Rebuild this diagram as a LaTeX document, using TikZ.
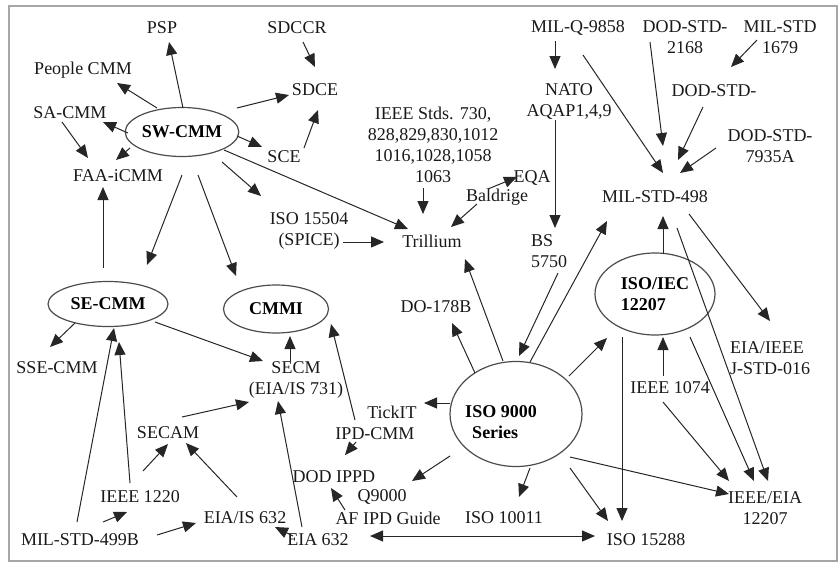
\documentclass[tikz,border=0pt]{standalone}
\usepackage{fontspec}
\setmainfont{Liberation Serif}
\usetikzlibrary{arrows.meta,shapes.geometric}
\begin{document}
\begin{tikzpicture}[x=1pt,y=-1pt,
  lbl/.style={inner sep=0pt, font=\fontsize{18}{21}\selectfont, text=black!90, align=center},
  ell/.style={ellipse, draw=black!70, line width=1.2pt, inner sep=0pt, text=black, font=\bfseries\fontsize{18}{21}\selectfont},
  arr/.style={draw=black!85, line width=1pt, -{Triangle[length=13pt,width=11pt]}},
  darr/.style={draw=black!85, line width=1pt, {Triangle[length=13pt,width=11pt]}-{Triangle[length=13pt,width=11pt]}}]
\useasboundingbox (0,0) rectangle (840,563);
\draw[gray!70, line width=2pt] (9,6) rectangle (837,561);
% nodes
\node[lbl] (psp) at (162,28) {PSP};
\node[lbl] (sdccr) at (297,28) {SDCCR};
\node[lbl] (people) at (83,70) {People CMM};
\node[lbl] (sdce) at (315,90) {SDCE};
\node[lbl] (sacmm) at (70,113) {SA-CMM};
\node[ell, minimum width=109pt, minimum height=49pt] (swcmm) at (182,132) {SW-CMM};
\node[lbl] (sce) at (284,157) {SCE};
\node[lbl] (faa) at (118,176) {FAA-iCMM};
\node[lbl] (ieee) at (433,145) {IEEE Stds. 730,\\828,829,830,1012\\1016,1028,1058\\1063};
\node[lbl] (eqa) at (532,178) {EQA};
\node[lbl] (baldrige) at (497,197) {Baldrige};
\node[lbl] (milq) at (578,28) {MIL-Q-9858};
\node[lbl] (dod2168) at (685,37) {DOD-STD-\\2168};
\node[lbl] (mil1679) at (780,37) {MIL-STD\\1679};
\node[lbl] (nato) at (569,101) {NATO\\AQAP1,4,9};
\node[lbl] (dodmid) at (714,91) {DOD-STD-};
\node[lbl] (dod7935) at (770,146) {DOD-STD-\\7935A};
\node[lbl] (mil498) at (655,197) {MIL-STD-498};
\node[lbl] (iso15504) at (309,231) {ISO 15504\\(SPICE)};
\node[lbl] (trillium) at (432,241) {Trillium};
\node[lbl, align=left] (bs5750) at (549,251) {BS\\5750};
\node[lbl] (do178) at (436,307) {DO-178B};
\node[ell, minimum width=105pt, minimum height=48pt] (cmmi) at (276,309) {CMMI};
\node[ell, minimum width=120pt, minimum height=45pt] (secmm) at (108,304) {SE-CMM};
\node[ell, minimum width=120pt, minimum height=82pt, align=left] (isoiec) at (655,294) {ISO/IEC\\12207};
\node[lbl] (ssecmm) at (57,368) {SSE-CMM};
\node[lbl] (secm) at (296,380) {SECM\\(EIA/IS 731)};
\node[lbl, align=left] (jstd) at (770,358) {EIA/IEEE\\J-STD-016};
\node[lbl] (ieee1074) at (670,388) {IEEE 1074};
\node[ell, minimum width=132pt, minimum height=105pt] (iso9000) at (516,414) {};
\node[lbl, align=left, text=black, font=\bfseries\fontsize{18}{21}\selectfont] (iso9000t) at (501,422) {ISO 9000\\\hspace*{7pt}Series};
\node[lbl] (tickit) at (392,412) {TickIT};
\node[lbl] (ipdcmm) at (375,434) {IPD-CMM};
\node[lbl] (secam) at (168,433) {SECAM};
\node[lbl] (dodippd) at (334,477) {DOD IPPD};
\node[lbl] (q9000) at (382,497) {Q9000};
\node[lbl] (afipd) at (388,518) {AF IPD Guide};
\node[lbl] (iso10011) at (504,518) {ISO 10011};
\node[lbl] (ieee1220) at (140,497) {IEEE 1220};
\node[lbl] (eiais632) at (245,518) {EIA/IS 632};
\node[lbl] (mil499b) at (80,540) {MIL-STD-499B};
\node[lbl] (eia632) at (318,540) {EIA 632};
\node[lbl] (iso15288) at (646,540) {ISO 15288};
\node[lbl] (ieeeeia) at (765,508) {IEEE/EIA\\12207};
% connectors
\draw[arr] ([shift={(1,-24)}]swcmm.center) -- ([shift={(7,14)}]psp.center);
\draw[arr] ([shift={(-25,-24)}]swcmm.center) -- ([shift={(34,13)}]people.center);
\draw[arr] ([shift={(-54,1)}]swcmm.center) -- ([shift={(33,9)}]sacmm.center);
\draw[arr] ([shift={(-52,16)}]swcmm.center) -- ([shift={(-2,-16)}]faa.center);
\draw[arr] ([shift={(-8,9)}]sacmm.center) -- ([shift={(-30,-18)}]faa.center);
\draw[arr] ([shift={(55,-24)}]swcmm.center) -- ([shift={(-26,5)}]sdce.center);
\draw[arr] ([shift={(55,4)}]swcmm.center) -- ([shift={(-22,-10)}]sce.center);
\draw[arr] ([shift={(20,-9)}]sce.center) -- ([shift={(3,20)}]sdce.center);
\draw[arr] ([shift={(6,14)}]sdccr.center) -- ([shift={(0,-23)}]sdce.center);
\draw[arr] ([shift={(42,18)}]swcmm.center) -- ([shift={(-24,-12)}]trillium.center);
\draw[arr] ([shift={(40,30)}]swcmm.center) -- ([shift={(-48,-35)}]iso15504.center);
\draw[arr] ([shift={(0,43)}]swcmm.center) -- ([shift={(39,-39)}]secmm.center);
\draw[arr] ([shift={(16,43)}]swcmm.center) -- ([shift={(-40,-33)}]cmmi.center);
\draw[arr] ([shift={(-5,-36)}]secmm.center) -- ([shift={(-15,11)}]faa.center);
\draw[arr] ([shift={(-33,19)}]secmm.center) -- ([shift={(-7,-21)}]ssecmm.center);
\draw[arr] ([shift={(47,18)}]secmm.center) -- ([shift={(-33,-19)}]secm.center);
\draw[arr] ([shift={(-6,-18)}]secm.center) -- ([shift={(14,27)}]cmmi.center);
\draw[arr] ([shift={(-20,-14)}]ipdcmm.center) -- ([shift={(55,15)}]cmmi.center);
\draw[arr] ([shift={(14,-16)}]secam.center) -- ([shift={(-47,22)}]secm.center);
\draw[arr] ([shift={(3,-26)}]ieee1220.center) -- ([shift={(0,11)}]secam.center);
\draw[arr] ([shift={(-8,-21)}]eiais632.center) -- ([shift={(18,10)}]secam.center);
\draw[arr] ([shift={(-10,-14)}]ieee1220.center) -- ([shift={(11,38)}]secmm.center);
\draw[arr] ([shift={(-3,-18)}]mil499b.center) -- ([shift={(6,24)}]secmm.center);
\draw[arr] ([shift={(23,-18)}]mil499b.center) -- ([shift={(-13,15)}]ieee1220.center);
\draw[arr] ([shift={(77,-5)}]mil499b.center) -- ([shift={(-49,5)}]eiais632.center);
\draw[arr] ([shift={(-25,-4)}]eia632.center) -- ([shift={(30,9)}]eiais632.center);
\draw[arr] ([shift={(-16,-13)}]eia632.center) -- ([shift={(-18,21)}]secm.center);
\draw[darr] ([shift={(52,-4)}]eia632.center) -- ([shift={(-51,-4)}]iso15288.center);
\draw[arr] ([shift={(-43,-8)}]afipd.center) -- ([shift={(-3,11)}]dodippd.center);
\draw[arr] ([shift={(-19,8)}]ipdcmm.center) -- ([shift={(11,-22)}]dodippd.center);
\draw[arr] ([shift={(-66,-11)}]iso9000.center) -- ([shift={(32,-9)}]tickit.center);
\draw[arr] ([shift={(-66,42)}]iso9000.center) -- ([shift={(30,-16)}]q9000.center);
\draw[arr] ([shift={(14,54)}]iso9000.center) -- ([shift={(15,-21)}]iso10011.center);
\draw[arr] ([shift={(54,54)}]iso9000.center) -- ([shift={(-38,-19)}]iso15288.center);
\draw[arr] ([shift={(54,43)}]iso9000.center) -- ([shift={(-36,-14)}]ieeeeia.center);
\draw[arr] ([shift={(-33,43)}]isoiec.center) -- ([shift={(-24,-19)}]iso15288.center);
\draw[arr] ([shift={(-7,-12)}]ieee1074.center) -- ([shift={(8,43)}]isoiec.center);
\draw[arr] ([shift={(-7,14)}]ieee1074.center) -- ([shift={(-36,-27)}]ieeeeia.center);
\draw[arr] ([shift={(35,43)}]isoiec.center) -- ([shift={(-11,-27)}]ieeeeia.center);
\draw[arr] ([shift={(22,31)}]mil498.center) -- ([shift={(3,-27)}]ieeeeia.center);
\draw[arr] ([shift={(34,17)}]mil498.center) -- ([shift={(0,-37)}]jstd.center);
\draw[arr] ([shift={(8,-40)}]isoiec.center) -- ([shift={(8,19)}]mil498.center);
\draw[arr] ([shift={(14,-52)}]iso9000.center) -- ([shift={(-48,24)}]mil498.center);
\draw[arr] ([shift={(53,-38)}]iso9000.center) -- ([shift={(-48,44)}]isoiec.center);
\draw[arr] ([shift={(9,22)}]bs5750.center) -- ([shift={(3,-58)}]iso9000.center);
\draw[arr] ([shift={(-13,-53)}]iso9000.center) -- ([shift={(33,18)}]trillium.center);
\draw[arr] ([shift={(-41,-41)}]iso9000.center) -- ([shift={(16,16)}]do178.center);
\draw[arr] ([shift={(34,11)}]iso15504.center) -- ([shift={(-48,1)}]trillium.center);
\draw[arr] ([shift={(-10,43)}]ieee.center) -- ([shift={(-9,-27)}]trillium.center);
\draw[arr] ([shift={(-20,7)}]baldrige.center) -- ([shift={(19,-14)}]trillium.center);
\draw[arr] ([shift={(-9,-8)}]baldrige.center) -- ([shift={(-15,-1)}]eqa.center);
\draw[arr] ([shift={(-23,13)}]milq.center) -- ([shift={(-14,-32)}]nato.center);
\draw[arr] ([shift={(5,27)}]milq.center) -- ([shift={(8,-24)}]mil498.center);
\draw[arr] ([shift={(-14,19)}]nato.center) -- ([shift={(6,-23)}]bs5750.center);
\draw[arr] ([shift={(-35,5)}]dod2168.center) -- ([shift={(8,-51)}]mil498.center);
\draw[arr] ([shift={(-11,16)}]dodmid.center) -- ([shift={(23,-37)}]mil498.center);
\draw[arr] ([shift={(-54,2)}]dod7935.center) -- ([shift={(25,-24)}]mil498.center);
\draw[arr] ([shift={(-23,3)}]mil1679.center) -- ([shift={(17,-24)}]dodmid.center);
\end{tikzpicture}
\end{document}
